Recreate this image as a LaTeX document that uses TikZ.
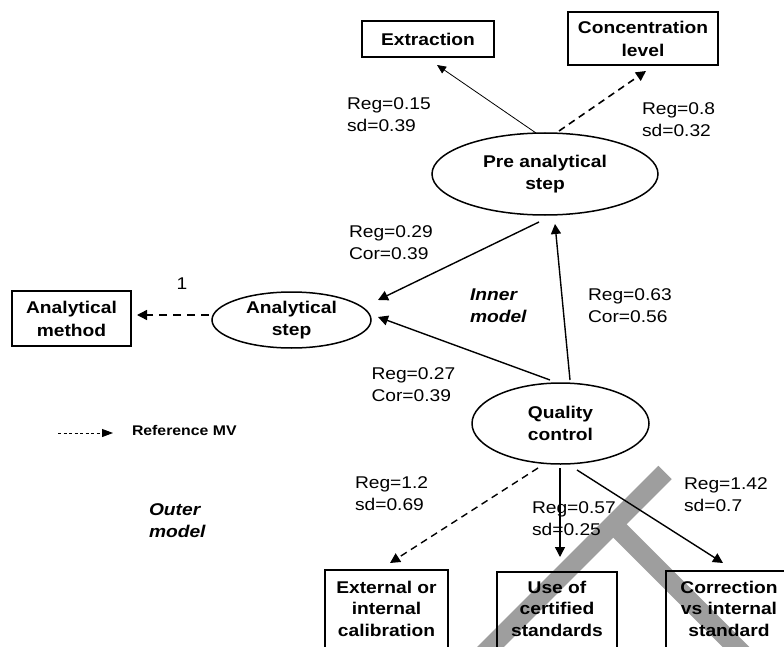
\documentclass[tikz,border=0pt]{standalone}
\usepackage{fontspec}
\setmainfont{Liberation Sans}[FakeStretch=1.13]
\usetikzlibrary{arrows.meta,calc,shapes.geometric}
\definecolor{wm}{RGB}{158,158,158}
\begin{document}
\begin{tikzpicture}[x=1pt,y=-1pt,
  every node/.style={inner sep=0pt,outer sep=0pt},
  lab/.style={font={\fontsize{17}{22}\selectfont},align=left,anchor=west},
  ital/.style={font={\fontsize{17}{22}\selectfont\bfseries\itshape},align=left,anchor=west},
  mvbox/.style={draw,line width=1.1pt,rectangle,font={\fontsize{17}{23}\selectfont\bfseries},align=center},
  mvtext/.style={font={\fontsize{17}{21.5}\selectfont\bfseries},align=center,anchor=north},
  lv/.style={draw,ellipse,line width=1.5pt,font={\fontsize{17}{22}\selectfont\bfseries},align=center},
  conn/.style={line width=1.4pt,-{Triangle[length=10pt,width=10pt]}},
  dconn/.style={conn,dash pattern=on 7pt off 5pt},
  wmstroke/.style={line width=19pt,color=wm,line cap=butt}
]
\useasboundingbox (0,0) rectangle (784,647);
\clip (0,0) rectangle (784,647);

% watermark
\coordinate (w1a) at (665,472.5);
\coordinate (w1b) at (470,667.5);
\coordinate (w2a) at (613,524);
\coordinate (w2b) at (765,676);
\draw[wmstroke] (w1a) -- (w1b);
\draw[wmstroke] (w2a) -- (w2b);

% manifest variables
\node[mvbox,minimum width=132pt,minimum height=36pt] (extr) at (428,39) {Extraction};
\node[mvbox,minimum width=150pt,minimum height=53pt] (conc) at (643,38.5) {Concentration\\level};
\node[mvbox,minimum width=119pt,minimum height=55pt] (meth) at (71.5,318.5) {Analytical\\method};

\node[draw,line width=1.1pt,minimum width=123pt,minimum height=130pt] (ext) at (386.5,635) {};
\node[draw,line width=1.1pt,minimum width=120pt,minimum height=130pt] (use) at (557,637) {};
\node[draw,line width=1.1pt,minimum width=126pt,minimum height=130pt] (corr) at (729,636) {};
\node[mvtext] (exttxt) at ($(ext.north)+(0,11)$) {External or\\internal\\calibration};
\node[mvtext] (usetxt) at ($(use.north)+(0,9)$) {Use of\\certified\\standards};
\node[mvtext] (corrtxt) at ($(corr.north)+(0,10)$) {Correction\\vs internal\\standard};

% latent variables
\node[lv,minimum width=226pt,minimum height=82pt] (pre) at (545,174) {Pre analytical\\step};
\node[lv,minimum width=159pt,minimum height=56pt] (an) at (291.5,320) {Analytical\\step};
\node[lv,minimum width=177pt,minimum height=81pt] (qc) at (560.5,423.5) {Quality\\control};

% connectors
\draw[line width=0.8pt,-{Triangle[length=9pt,width=8pt]}] ($(pre.north)+(-9,0)$) -- ($(extr.south)+(9,8)$);
\draw[dconn,line width=1.6pt] ($(pre.north)+(14,-2)$) -- ($(conc.south)+(3,6)$);
\draw[conn] ($(pre.south)+(-6,7)$) -- ($(an.east)+(7,-20)$);
\draw[conn] ($(qc.north)+(-10.5,-3)$) -- ($(an.east)+(7,-3)$);
\draw[conn] ($(qc.north)+(9.5,-3)$) -- ($(pre.south)+(10,9)$);
\draw[dconn,dash pattern=on 8pt off 6pt] ($(an.west)+(-3,-5)$) -- ($(meth.east)+(6,-3.5)$);
\draw[dconn] ($(qc.south)+(-22.5,4)$) -- ($(ext.north)+(3.5,-7)$);
\draw[conn] ($(qc.south)+(-0.5,4)$) -- ($(use.north)+(3,-15)$);
\draw[conn] ($(qc.south)+(16.5,6)$) -- ($(corr.north)+(-6,-8)$);

% labels
\node[lab] (l1) at (347,114.5) {Reg=0.15\\sd=0.39};
\node[lab] (l2) at (642,120) {Reg=0.8\\sd=0.32};
\node[lab] (l3) at (349,242.5) {Reg=0.29\\Cor=0.39};
\node[lab] (l4) at (371.5,384.5) {Reg=0.27\\Cor=0.39};
\node[lab] (l5) at (588,305.5) {Reg=0.63\\Cor=0.56};
\node[lab] (l6) at (355,494) {Reg=1.2\\sd=0.69};
\node[lab] (l7) at (532,518.5) {Reg=0.57\\sd=0.25};
\node[lab] (l8) at (684,494.5) {Reg=1.42\\sd=0.7};
\node[font={\fontsize{17}{22}\selectfont}] (one) at (182,284) {1};
\node[ital] (inner) at (470,305.5) {Inner\\model};
\node[ital] (outer) at (149,521) {Outer\\model};

% legend
\coordinate (lega) at (58,433);
\coordinate (legb) at (113,433);
\draw[line width=0.9pt,dash pattern=on 3pt off 2.5pt,-{Triangle[length=11pt,width=8pt]}] (lega) -- (legb);
\node[font={\fontsize{14}{16}\selectfont\bfseries},anchor=west] (legt) at (132,430) {Reference MV};
\end{tikzpicture}
\end{document}
